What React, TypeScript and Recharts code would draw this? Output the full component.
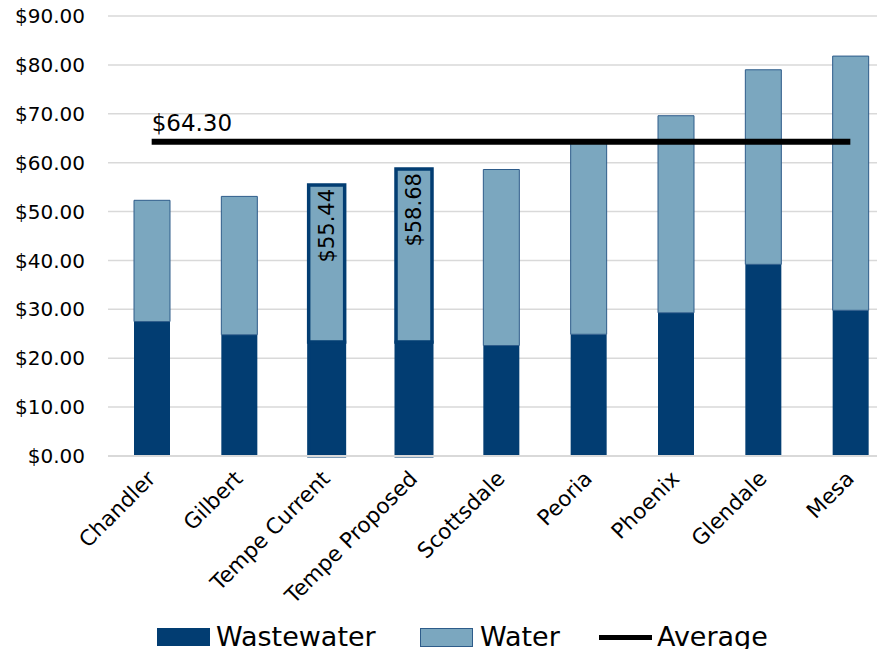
import React from 'react';
import {
  ComposedChart,
  Bar,
  Line,
  XAxis,
  YAxis,
  CartesianGrid,
  Legend,
  Cell,
  LabelList,
} from 'recharts';

const categories = [
  'Chandler',
  'Gilbert',
  'Tempe Current',
  'Tempe Proposed',
  'Scottsdale',
  'Peoria',
  'Phoenix',
  'Glendale',
  'Mesa',
];
const wastewater = [27.5, 24.8, 23.3, 23.3, 22.6, 24.9, 29.3, 39.2, 29.8];
const water = [24.8, 28.3, 32.14, 35.38, 36.0, 39.4, 40.3, 39.8, 52.0];
const barLabels = [null, null, '$55.44', '$58.68', null, null, null, null, null];
const average = 64.3;
const averageLabel = '$64.30';
const highlighted = ['Tempe Current', 'Tempe Proposed'];
const yTicks = [0, 10, 20, 30, 40, 50, 60, 70, 80, 90];

const WASTE = '#023d72';
const WATER = '#7ba7bf';
const FONT = '"DejaVu Sans", sans-serif';

const data = categories.map((name, i) => ({
  name,
  wastewater: wastewater[i],
  water: water[i],
  average,
  label: barLabels[i],
}));

const CategoryTick = ({ x, y, payload }: any) => {
  const ax = x + 5;
  const ay = y + 24;
  return (
    <text
      x={ax}
      y={ay}
      transform={`rotate(-45, ${ax}, ${ay})`}
      textAnchor="end"
      fontSize={21.5}
      fill="#000"
      fontFamily={FONT}
    >
      {payload.value}
    </text>
  );
};

const TotalLabel = ({ x, y, width, value }: any) => {
  if (!value) return null;
  const cx = x + width / 2;
  const ty = y + 4;
  return (
    <text
      x={cx}
      y={ty}
      transform={`rotate(-90, ${cx}, ${ty})`}
      textAnchor="end"
      dominantBaseline="central"
      fontSize={21}
      fill="#000"
      fontFamily={FONT}
    >
      {value}
    </text>
  );
};

const AverageLabel = ({ x, y, index }: any) => {
  if (index !== 0) return null;
  return (
    <text x={x} y={y - 11} fontSize={23} fill="#000" fontFamily={FONT}>
      {averageLabel}
    </text>
  );
};

const itemStyle: React.CSSProperties = {
  position: 'absolute',
  top: 18,
  height: 36,
  display: 'flex',
  alignItems: 'center',
  lineHeight: '36px',
};

const renderLegend = () => (
  <div style={{ position: 'relative', height: 56, fontFamily: FONT, fontSize: 27, color: '#000' }}>
    <div style={{ ...itemStyle, left: 157 }}>
      <span style={{ display: 'inline-block', width: 53, height: 18, background: WASTE, marginRight: 6 }} />
      <span>Wastewater</span>
    </div>
    <div style={{ ...itemStyle, left: 420 }}>
      <span
        style={{
          display: 'inline-block',
          width: 51,
          height: 17,
          background: WATER,
          border: '1px solid #2e5c8a',
          marginRight: 7,
        }}
      />
      <span>Water</span>
    </div>
    <div style={{ ...itemStyle, left: 599 }}>
      <span style={{ display: 'inline-block', width: 53, height: 5, background: '#000', marginRight: 5 }} />
      <span>Average</span>
    </div>
  </div>
);

export default function App() {
  return (
    <div
      style={{
        margin: -8,
        width: 885,
        height: 657,
        overflow: 'hidden',
        position: 'relative',
        background: '#fff',
        fontFamily: FONT,
      }}
    >
      <ComposedChart
        width={900}
        height={657}
        data={data}
        margin={{ top: 16, right: 6, left: 0, bottom: 0 }}
      >
        <CartesianGrid vertical={false} stroke="#d9d9d9" strokeWidth={1.5} />
        <XAxis
          dataKey="name"
          interval={0}
          height={145}
          tickLine={false}
          tickSize={0}
          tickMargin={0}
          axisLine={{ stroke: '#d9d9d9', strokeWidth: 2 }}
          tick={<CategoryTick />}
        />
        <YAxis
          width={108}
          domain={[0, 90]}
          ticks={yTicks}
          tickLine={false}
          axisLine={false}
          tickSize={0}
          tickMargin={23}
          tickFormatter={(v: number) => `$${v.toFixed(2)}`}
          tick={{ fontSize: 20, fill: '#000', fontFamily: FONT }}
        />
        <Legend verticalAlign="bottom" content={renderLegend} wrapperStyle={{ left: 0, width: 900, bottom: 0 }} />
        <Bar dataKey="wastewater" name="Wastewater" stackId="a" fill={WASTE} barSize={36} isAnimationActive={false}>
          {data.map((d, i) => (
            <Cell
              key={`w-${i}`}
              stroke={highlighted.includes(d.name) ? WASTE : 'none'}
              strokeWidth={highlighted.includes(d.name) ? 3 : 0}
            />
          ))}
        </Bar>
        <Bar dataKey="water" name="Water" stackId="a" fill={WATER} barSize={36} isAnimationActive={false}>
          {data.map((d, i) => (
            <Cell
              key={`v-${i}`}
              stroke={highlighted.includes(d.name) ? WASTE : '#2e5c8a'}
              strokeWidth={highlighted.includes(d.name) ? 3.5 : 1}
            />
          ))}
          <LabelList dataKey="label" content={<TotalLabel />} />
        </Bar>
        <Line
          dataKey="average"
          name="Average"
          stroke="#000"
          strokeWidth={6}
          dot={false}
          activeDot={false}
          label={<AverageLabel />}
          isAnimationActive={false}
        />
      </ComposedChart>
    </div>
  );
}
